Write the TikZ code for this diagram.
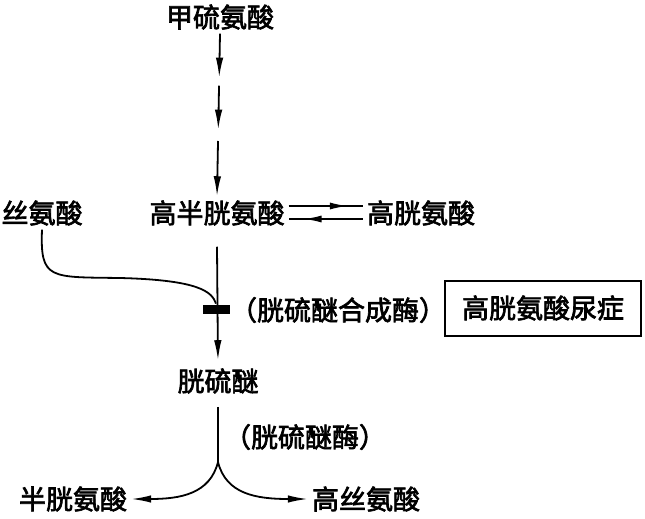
\documentclass[tikz,border=0pt]{standalone}
\usepackage{fontspec}
\setmainfont{Noto Sans CJK SC}[FakeBold=2.5]
\usetikzlibrary{arrows.meta,calc,decorations.markings}

\begin{document}
\begin{tikzpicture}[x=1pt, y=-1pt, line width=1.8pt,
    >={Latex[length=20pt,width=7.5pt]},
    every node/.style={font=\fontsize{27}{30}\selectfont},
    midarr/.style={postaction={decorate},
      decoration={markings,mark=at position 0.8 with {\arrow{Latex[length=18pt,width=7pt]}}}},
    box/.style={draw, line width=2pt, minimum width=196pt, minimum height=55pt}]
  \useasboundingbox (0,0) rectangle (645,519);
  % compounds
  \node (met)  at (220,17)  {甲硫氨酸};
  \node (hcy)  at (217,213) {高半胱氨酸};
  \node (ser)  at (42,213)  {丝氨酸};
  \node (hcys) at (421,213) {高胱氨酸};
  \node (cth)  at (218,381) {胱硫醚};
  \node (cys)  at (73,499)  {半胱氨酸};
  \node (hser) at (366,499) {高丝氨酸};
  % enzymes
  \node (cbs)  at (338,310) {（胱硫醚合成酶）};
  \node (cse)  at (305,437) {（胱硫醚酶）};
  \node[box] (hcu) at (543,308) {高胱氨酸尿症};
  \node[fill, inner sep=0pt, minimum width=27pt, minimum height=9pt] (bar) at (216,309) {};
  % several steps
  \draw[->] (met.south) -- ($(met.south)!0.27!(hcy.north)$);
  \draw[->] ($(met.south)!0.32!(hcy.north)$) -- ($(met.south)!0.59!(hcy.north)$);
  \draw[->] ($(met.south)!0.66!(hcy.north)$) -- (hcy.north);
  % equilibrium
  \draw[midarr] ([yshift=7pt]hcy.east) -- ([yshift=7pt]hcys.west);
  \draw[midarr] ([yshift=-6pt]hcys.west) -- ([yshift=-6pt]hcy.east);
  \draw[->, shorten >=4pt] ([yshift=-17pt]hcy.south) -- (cth.north);
  \draw (ser.south) .. controls (40,280) and (50,277) .. (120,278)
        .. controls (200,280) and (212,292) .. (bar.north);
  %\draw (bar.west) -- (bar.east);
  \coordinate (fork) at (218,462);
  \draw ([yshift=-9pt]cth.south) -- (fork);
  \draw[->] (fork) .. controls (210,494) and (180,499) .. (cys.east);
  \draw[->] (fork) .. controls (226,494) and (256,499) .. (hser.west);
\end{tikzpicture}
\end{document}
